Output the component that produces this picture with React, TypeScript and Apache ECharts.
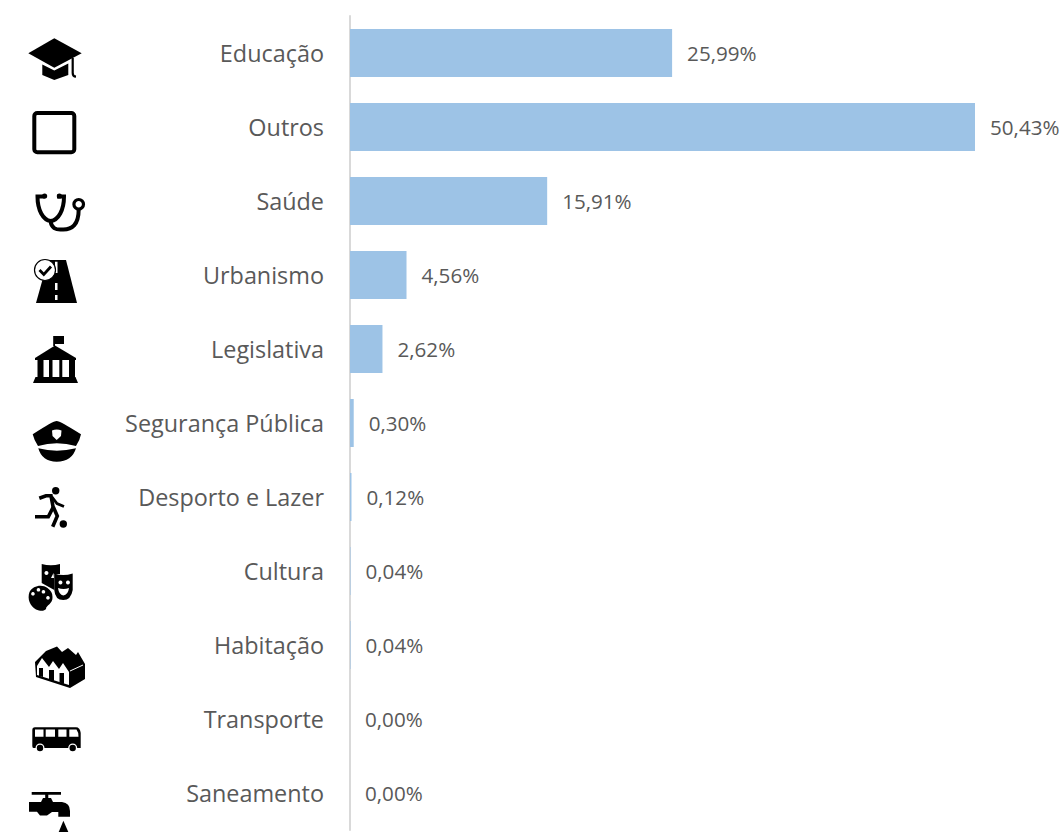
import React, { useEffect, useRef } from "react";
import * as echarts from "echarts";

const categories = ["Educação", "Outros", "Saúde", "Urbanismo", "Legislativa", "Segurança Pública", "Desporto e Lazer", "Cultura", "Habitação", "Transporte", "Saneamento"];
const shares = [25.99, 50.43, 15.91, 4.56, 2.62, 0.3, 0.12, 0.04, 0.04, 0, 0];

type Icon = { d: string; fill?: string; stroke?: string; lw?: number };
const K = "#000000";
const W = "#ffffff";

const icons: Icon[] = [
  // graduation cap
  { d: "M54.3 38.3 L81.7 53.3 L54.3 67.7 L28.3 53.3 Z", fill: K },
  { d: "M42.3 64.5 L54.3 70.5 L68.3 63.5 L68.3 75 L54.3 80 L42.3 75 Z", fill: K },
  { d: "M72.7 58 L72.7 73 Q72.7 76.5 76 76.7", stroke: K, lw: 2.2 },
  // stethoscope
  { d: "M45 196.5 L37.5 196.5 C37.5 210 43 220 50.7 221 C58.5 220 64 210 64 196.5 L57 196.5", stroke: K, lw: 4 },
  { d: "M50.7 221 C51 228 56 230 62 229.5 C72 230 78.7 225 78.7 209", stroke: K, lw: 4 },
  { d: "M83.5 204.3 A4.8 4.8 0 1 1 73.9 204.3 A4.8 4.8 0 1 1 83.5 204.3 Z", stroke: K, lw: 3.2 },
  { d: "M47.2 196 A2.6 2.6 0 1 1 42 196 A2.6 2.6 0 1 1 47.2 196 Z", fill: K },
  { d: "M62 196 A2.6 2.6 0 1 1 56.8 196 A2.6 2.6 0 1 1 62 196 Z", fill: K },
  // road
  { d: "M48 260 L66 260 L77 303 L36 303 Z", fill: K },
  { d: "M55 261.7 L57.5 261.7 L57.5 273 L55 273 Z M55 283 L57.5 283 L57.5 290 L55 290 Z M55 295 L57.5 295 L57.5 300 L55 300 Z", fill: W },
  { d: "M55.5 270 A10.5 10.5 0 1 1 34.5 270 A10.5 10.5 0 1 1 55.5 270 Z", fill: W, stroke: K, lw: 1.2 },
  { d: "M39.5 270 L43.8 274.5 L51 266.5", stroke: K, lw: 2.8 },
  // legislature
  { d: "M53.2 336 L64 336 L64 344 L55 344 L55 346 L53.2 346 Z", fill: K },
  { d: "M55 345.5 L76 358 L76 360 L35 360 L35 358 Z", fill: K },
  { d: "M37.5 360 L43.5 360 L43.5 378 L37.5 378 Z M49 360 L52.5 360 L52.5 378 L49 378 Z M59.3 360 L62.3 360 L62.3 378 L59.3 378 Z M69 360 L75 360 L75 378 L69 378 Z", fill: K },
  { d: "M35.5 377 L75.5 377 L78 383 L33 383 Z", fill: K },
  // police cap
  { d: "M56.7 421 Q60 421 81 434.3 Q80 440 76 446 Q56.7 440.5 38 446 Q34 440 32.7 434.3 Q53 421 56.7 421 Z", fill: K },
  { d: "M52 430.5 Q56.7 428.5 61.5 430.5 L61 436 L56.7 440 L52.5 436 Z", fill: W },
  { d: "M38.3 448.3 Q56.7 453 76 448.3 Q72 461.7 56.7 461.7 Q42 461.7 38.3 448.3 Z", fill: K },
  // runner
  { d: "M59.4 490.7 A3.7 3.7 0 1 1 52 490.7 A3.7 3.7 0 1 1 59.4 490.7 Z", fill: K },
  { d: "M67 524 A3.7 3.7 0 1 1 59.6 524 A3.7 3.7 0 1 1 67 524 Z", fill: K },
  { d: "M39.3 498.3 L46 495.8 L51 495.8 L53.3 508", stroke: K, lw: 3.6 },
  { d: "M52 497 L57 503.5 L64 506.5", stroke: K, lw: 2.8 },
  { d: "M53.3 507 L48.3 516.7 L35 516.7", stroke: K, lw: 3.6 },
  { d: "M53.3 507 L57.3 516 L52.7 526.7", stroke: K, lw: 3.6 },
  // masks and palette
  { d: "M41.7 564 Q51 566.5 60 564 L60 574 L54.3 574 L54.3 590 Q47 586 41.7 583 Z", fill: K },
  { d: "M46.5 571 A2 2 0 1 1 46.4 571 Z M53.5 573 L51 578 L54 578 Z", fill: W },
  { d: "M54.3 573.5 Q63 576.5 72.7 573.5 L72.7 590 Q71 600 63.3 600 Q55 600 54.3 590 Z", fill: K },
  { d: "M60.5 580.5 A2 2 0 1 1 60.4 580.5 Z M68 580.5 A2 2 0 1 1 67.9 580.5 Z M58 588 Q63.5 590 69 588 Q68 595 63.3 595.5 Q59 595 58 588 Z", fill: W },
  { d: "M52.5 597 C53 604 46 605 46 609 C44 611.5 40 611 36 609.5 C30 606 27 599 29.5 592 C33 585.5 42 584 47.5 588 C51 590.5 52.5 593 52.5 597 Z", fill: K },
  { d: "M33 592 A1.8 1.8 0 1 1 32.9 592 Z M38.5 588 A1.8 1.8 0 1 1 38.4 588 Z M43.5 590 A1.8 1.8 0 1 1 43.4 590 Z M48 596 A1.8 1.8 0 1 1 47.9 596 Z", fill: W },
  // factory housing
  { d: "M35 662 L46 651 L57 646.5 L62 652 L68 648 L76 655 L78 652 L85 664 L85 679 L70 688 L36 677 Z", fill: K },
  { d: "M37 666 L42 658 L49 667 L53 661 L59 669 L63 663 L69 672 L69 685 L37 675 Z", fill: W },
  { d: "M39 668 L43 668 L43 677 L39 676 Z M49 670 L54 670 L54 681 L49 679.5 Z M59.5 673 L64 673 L64 684 L59.5 682.5 Z", fill: K },
  { d: "M70 671 L83 665", stroke: W, lw: 1 },
  // bus
  { d: "M35 727.3 L76 727.3 Q80 727.3 80.7 733 L80.7 748 L33.5 748 Q32.3 748 32.3 746 L32.3 730 Q32.3 727.3 35 727.3 Z", fill: K },
  { d: "M35 729.5 L43.5 729.5 L43.5 736.7 L35 736.7 Z M45.7 729.5 L55 729.5 L55 736.7 L45.7 736.7 Z M58.3 729.5 L66.5 729.5 L66.5 736.7 L58.3 736.7 Z M69.3 729.5 L76.5 729.5 Q78.5 732 78.5 736.7 L69.3 736.7 Z", fill: W },
  { d: "M44.5 748 A4.5 4.5 0 1 1 35.5 748 A4.5 4.5 0 1 1 44.5 748 Z M77.2 748 A4.5 4.5 0 1 1 68.2 748 A4.5 4.5 0 1 1 77.2 748 Z", fill: W },
  { d: "M43.2 748 A3.2 3.2 0 1 1 36.8 748 A3.2 3.2 0 1 1 43.2 748 Z M75.9 748 A3.2 3.2 0 1 1 69.5 748 A3.2 3.2 0 1 1 75.9 748 Z", fill: K },
  // faucet and drop
  { d: "M31.7 792 L61 792 L61 794.8 L31.7 794.8 Z M45.2 793 L48.3 793 L48.3 798 L45.2 798 Z", fill: K },
  { d: "M29 802 L41 802 L43 798 L51 798 L53 802 L62 802 Q70 803 70 811 L70 816.7 L58.3 816.7 L58.3 812 L52 812 L47 815.5 L40 815.5 L37 811.7 L29 811.7 Z", fill: K },
  { d: "M63.4 820.7 L68.3 832 L58.7 832 Z", fill: K },
];

icons.forEach((ic, i) => {
  echarts.graphic.registerShape("ico" + i, echarts.graphic.extendPath(ic.d, {}) as any);
});

export default function App() {
  const ref = useRef<HTMLDivElement>(null);
  useEffect(() => {
    const chart = echarts.init(ref.current!, null, { renderer: "svg" });
    chart.setOption({
      animation: false,
      backgroundColor: "#ffffff",
      grid: { left: 350, top: 16, width: 625, height: 814 },
      xAxis: { type: "value", min: 0, max: 50.43, show: false },
      yAxis: {
        type: "category",
        inverse: true,
        data: categories,
        axisTick: { show: false },
        axisLine: { show: true, lineStyle: { color: "#D9D9D9", width: 2 } },
        axisLabel: { color: "#595959", fontFamily: "Open Sans", fontSize: 23.4, margin: 26, padding: [0, 0, 3, 0] },
      },
      series: [
        {
          type: "bar",
          data: shares,
          barWidth: 48,
          itemStyle: { color: "#9DC3E6" },
          label: {
            show: true,
            position: "right",
            distance: 15,
            color: "#595959",
            fontFamily: "Open Sans",
            fontSize: 20.6,
            formatter: (p: any) => p.value.toFixed(2).replace(".", ",") + "%",
          },
        },
      ],
      graphic: [
        {
          type: "rect",
          shape: { x: 34.3, y: 113, width: 40, height: 39.3, r: 3 },
          style: { fill: "transparent", stroke: K, lineWidth: 4 },
        },
        ...icons.map((ic, i) => ({
          type: "ico" + i,
          x: 0,
          y: 0,
          style: { fill: ic.fill ?? "transparent", stroke: ic.stroke ?? "transparent", lineWidth: ic.lw ?? 0 },
        })),
      ],
    });
    return () => chart.dispose();
  }, []);
  return <div ref={ref} style={{ position: "absolute", left: 0, top: 0, width: 1061, height: 832 }} />;
}
